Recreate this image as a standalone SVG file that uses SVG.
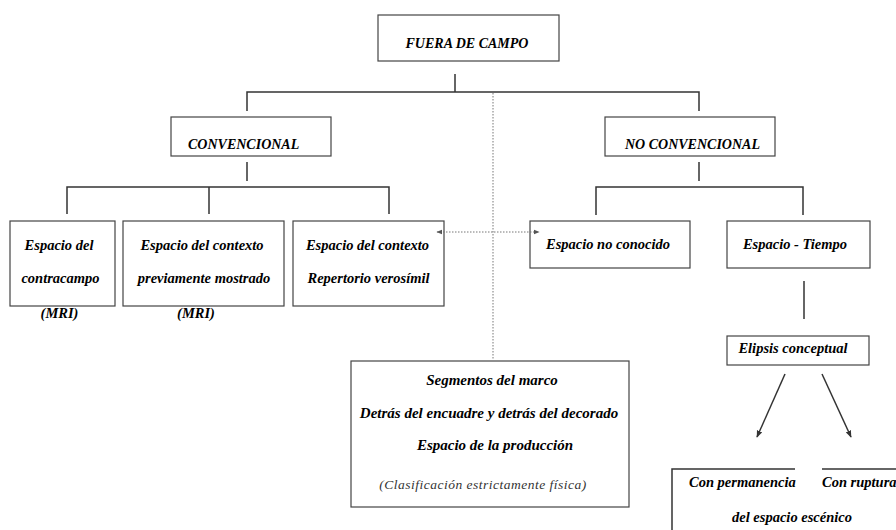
<svg xmlns="http://www.w3.org/2000/svg" width="896" height="530" viewBox="0 0 896 530">
<defs>
<style>
.box{fill:#fff;stroke:#444;stroke-width:1.2}
.t{font-family:'Liberation Serif','DejaVu Serif',serif;font-weight:700;font-style:italic;font-size:14.5px;fill:#000}
.h{font-size:14px}
.b{font-size:15px}
.m{text-anchor:middle}
.ln{stroke:#333;stroke-width:1.5;fill:none}
.dot{stroke:#777;stroke-width:1;stroke-dasharray:1.5 1.5;fill:none}
.light{font-family:'Liberation Serif','DejaVu Serif',serif;font-style:italic;font-size:13.5px;fill:#333;letter-spacing:0.5px}
</style>
<marker id="ah" viewBox="0 0 10 10" refX="9" refY="5" markerWidth="7" markerHeight="7" orient="auto-start-reverse" markerUnits="userSpaceOnUse">
<path d="M0,1 L10,5 L0,9 z" fill="#333"/>
</marker>
<marker id="ahs" viewBox="0 0 10 10" refX="9" refY="5" markerWidth="6" markerHeight="6" orient="auto-start-reverse" markerUnits="userSpaceOnUse">
<path d="M0,1 L10,5 L0,9 z" fill="#555"/>
</marker>
</defs>
<rect width="896" height="530" fill="#fff"/>

<g id="fuera-de-campo">
<rect class="box" x="378" y="15" width="181" height="46"/>
<text class="t h m" x="467" y="48">FUERA DE CAMPO</text>
</g>

<g id="convencional">
<rect class="box" x="171" y="117" width="160" height="39"/>
<text class="t h" x="188" y="149">CONVENCIONAL</text>
</g>

<g id="no-convencional">
<rect class="box" x="605" y="117" width="170" height="39"/>
<text class="t h" x="625" y="149">NO CONVENCIONAL</text>
</g>

<g id="contracampo">
<rect class="box" x="10" y="221" width="105" height="85"/>
<text class="t m" x="59" y="250">Espacio del</text>
<text class="t m" x="60.5" y="283">contracampo</text>
<text class="t m" x="59.5" y="318">(MRI)</text>
</g>

<g id="previamente">
<rect class="box" x="123" y="221" width="161" height="85"/>
<text class="t m" x="202" y="250">Espacio del contexto</text>
<text class="t m" x="204" y="283">previamente mostrado</text>
<text class="t m" x="196" y="318">(MRI)</text>
</g>

<g id="verosimil">
<rect class="box" x="293" y="221" width="151" height="85"/>
<text class="t m" x="367.5" y="250">Espacio del contexto</text>
<text class="t m" x="368.5" y="283">Repertorio verosímil</text>
</g>

<g id="no-conocido">
<rect class="box" x="530" y="221" width="160" height="47"/>
<text class="t m" x="608" y="249">Espacio no conocido</text>
</g>

<g id="espacio-tiempo">
<rect class="box" x="727" y="221" width="143" height="47"/>
<text class="t m" x="795" y="249">Espacio - Tiempo</text>
</g>

<g id="elipsis">
<rect class="box" x="727" y="336" width="142" height="29"/>
<text class="t m" x="793" y="353">Elipsis conceptual</text>
</g>

<g id="segmentos">
<rect class="box" x="351" y="361" width="278" height="146"/>
<text class="t b m" x="492" y="385">Segmentos del marco</text>
<text class="t b m" x="489" y="418">Detrás del encuadre y detrás del decorado</text>
<text class="t b m" x="495" y="450">Espacio de la producción</text>
<text class="light m" x="483" y="489">(Clasificación estrictamente física)</text>
</g>

<g id="permanencia-ruptura">
<polyline class="ln" stroke-width="1.2" points="672,531 672,469 795,469"/>
<line class="ln" stroke-width="1.2" x1="822" y1="469" x2="897" y2="469"/>
<text class="t" x="689" y="487">Con permanencia</text>
<text class="t" x="822" y="487">Con ruptura</text>
<text class="t m" x="792" y="522">del espacio escénico</text>
</g>

<g id="connectors">
<line class="ln" x1="455" y1="74" x2="455" y2="92"/>
<polyline class="ln" points="247,111 247,92 699,92 699,111"/>
<line class="ln" x1="247" y1="162" x2="247" y2="181"/>
<polyline class="ln" points="67,214 67,187 389,187 389,214"/>
<line class="ln" x1="209" y1="187" x2="209" y2="214"/>
<line class="ln" x1="699" y1="162" x2="699" y2="181"/>
<polyline class="ln" points="596,215 596,187 803,187 803,215"/>
<line class="ln" x1="804" y1="281" x2="804" y2="319"/>
<line class="dot" x1="493" y1="93" x2="493" y2="360"/>
<line class="dot" x1="437" y1="232" x2="539" y2="232" marker-start="url(#ahs)" marker-end="url(#ahs)"/>
<line class="ln" x1="785" y1="374" x2="757" y2="437" stroke-width="1.2" marker-end="url(#ah)"/>
<line class="ln" x1="822" y1="374" x2="851" y2="437" stroke-width="1.2" marker-end="url(#ah)"/>
</g>
</svg>
